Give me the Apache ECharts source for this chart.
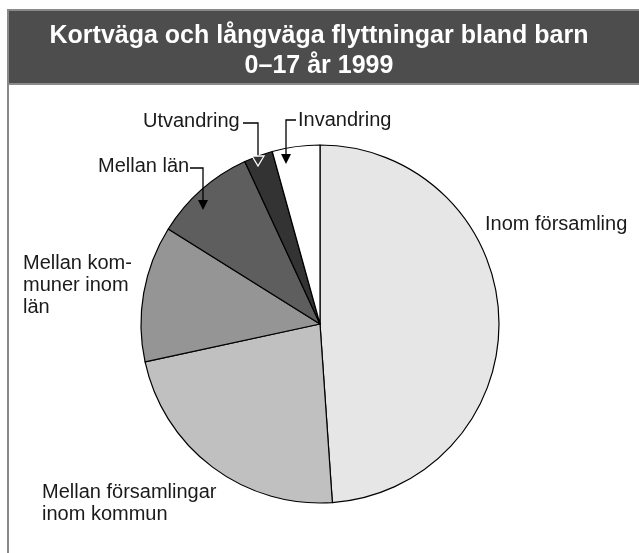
<!DOCTYPE html>
<html>
<head>
<meta charset="utf-8">
<script src="https://cdn.jsdelivr.net/npm/echarts@6/dist/echarts.min.js"></script>
<style>
  html, body { margin: 0; padding: 0; background: #fff; }
  #chart { width: 639px; height: 553px; }
</style>
</head>
<body>
<div id="chart"></div>
<script>
// share of moves (%), clockwise from 12 o'clock
var categories = ['Inom församling', 'Mellan församlingar inom kommun', 'Mellan kommuner inom län', 'Mellan län', 'Utvandring', 'Invandring'];
var labelTexts = ['Inom församling', 'Mellan församlingar\ninom kommun', 'Mellan kom-\nmuner inom\nlän', 'Mellan län', 'Utvandring', 'Invandring'];
var values = [48.9, 22.7, 12.3, 9.2, 2.6, 4.3];
var colors = ['#e6e6e6', '#c0c0c0', '#959595', '#5e5e5e', '#333333', '#ffffff'];

// label anchor (left, middle) for each slice
var labelPos = [[485, 224], [42, 503], [23, 285], [98, 166], [143, 121], [298, 120]];

var chart = echarts.init(document.getElementById('chart'), null, { renderer: 'canvas' });

var font = 'Liberation Sans, Arial, sans-serif';

chart.setOption({
  animation: false,
  title: {
    text: 'Kortväga och långväga flyttningar bland barn\n0–17 år 1999',
    left: 319,
    top: 21,
    padding: 0,
    textAlign: 'center',
    textStyle: {
      color: '#ffffff',
      fontFamily: font,
      fontSize: 25,
      fontWeight: 'bold',
      lineHeight: 30
    }
  },
  graphic: [
    // frame + title bar
    {
      type: 'rect', z: -10,
      shape: { x: 8, y: 10, width: 660, height: 600 },
      style: { fill: '#fff', stroke: '#8a8a8a', lineWidth: 2 }
    },
    {
      type: 'rect', z: -9,
      shape: { x: 8, y: 10, width: 660, height: 74 },
      style: { fill: '#4d4d4d', stroke: '#8a8a8a', lineWidth: 2 }
    },
    // leader lines
    { type: 'polyline', z: 10, shape: { points: [[190, 168], [203, 168], [203, 202]] }, style: { stroke: '#000', lineWidth: 1.3, fill: null } },
    { type: 'polygon', z: 10, shape: { points: [[198, 200], [208, 200], [203, 210]] }, style: { fill: '#000' } },
    { type: 'polyline', z: 10, shape: { points: [[243, 123], [258, 123], [258, 157]] }, style: { stroke: '#000', lineWidth: 1.3, fill: null } },
    { type: 'polygon', z: 10, shape: { points: [[252, 156], [264, 156], [258, 166]] }, style: { fill: '#333', stroke: '#fff', lineWidth: 1.3 } },
    { type: 'polyline', z: 10, shape: { points: [[296, 120], [286, 120], [286, 155]] }, style: { stroke: '#000', lineWidth: 1.3, fill: null } },
    { type: 'polygon', z: 10, shape: { points: [[281, 154], [291, 154], [286, 164]] }, style: { fill: '#000' } }
  ],
  series: [{
    type: 'pie',
    center: [320, 324],
    radius: [0, 179],
    startAngle: 90,
    clockwise: true,
    avoidLabelOverlap: false,
    silent: true,
    itemStyle: { borderColor: '#000', borderWidth: 1.2 },
    label: {
      show: true,
      position: 'outside',
      color: '#1a1a1a',
      fontFamily: font,
      fontSize: 20,
      lineHeight: 22,
      formatter: function (p) { return labelTexts[p.dataIndex]; }
    },
    labelLine: { show: false },
    labelLayout: function (p) {
      var pos = labelPos[p.dataIndex];
      return { x: pos[0], y: pos[1], align: 'left', verticalAlign: 'middle' };
    },
    data: categories.map(function (c, i) {
      return { name: c, value: values[i], itemStyle: { color: colors[i] } };
    })
  }]
});
</script>
</body>
</html>
